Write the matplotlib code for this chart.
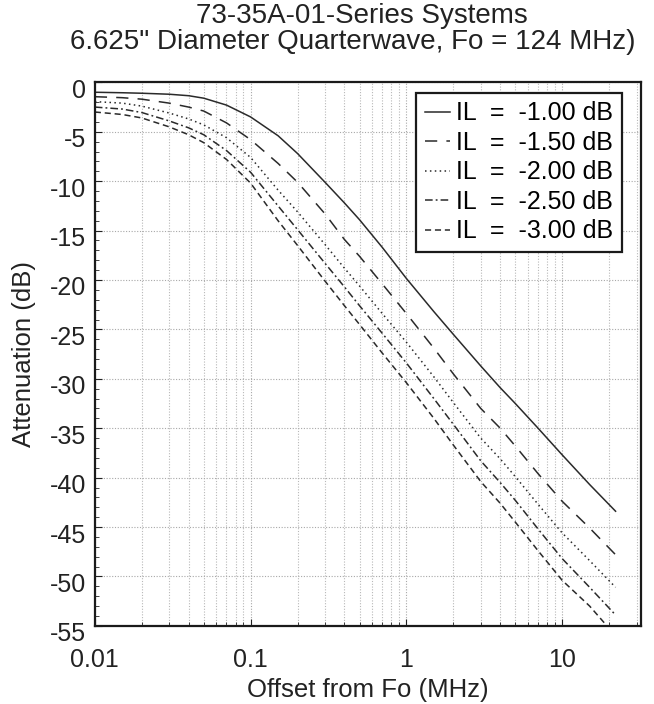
import matplotlib
matplotlib.use("Agg")
import matplotlib.pyplot as plt
import matplotlib.transforms as mtransforms
from matplotlib.ticker import FixedLocator, FixedFormatter, MultipleLocator, LogLocator, NullFormatter

plt.rcParams['font.family'] = ['Liberation Sans', 'DejaVu Sans']
plt.rcParams['axes.unicode_minus'] = False

title_line1 = "73-35A-01-Series Systems"
title_line2 = "6.625\" Diameter Quarterwave, Fo = 124 MHz)"
x_label = "Offset from Fo (MHz)"
y_label = "Attenuation (dB)"

offset_mhz = [0.01, 0.015, 0.02, 0.03, 0.04, 0.05, 0.07, 0.1, 0.15, 0.2, 0.3, 0.4,
              0.5, 0.7, 1, 1.5, 2, 3, 4, 5, 7, 10, 15, 22]

il_100 = [-1.0, -1.05, -1.1, -1.2, -1.35, -1.6, -2.3, -3.5, -5.4, -7.2, -10.1, -12.2,
          -13.9, -16.7, -19.85, -23.2, -25.5, -28.7, -30.9, -32.5, -35.0, -37.7, -40.7, -43.4]
il_150 = [-1.45, -1.55, -1.7, -2.1, -2.5, -2.9, -4.1, -5.8, -8.2, -10.1, -13.3, -15.9,
          -17.6, -20.4, -23.4, -26.9, -29.5, -33.0, -35.0, -36.8, -39.6, -42.4, -45.1, -47.8]
il_200 = [-1.95, -2.1, -2.4, -3.1, -3.7, -4.3, -5.6, -7.6, -10.9, -13.1, -16.4, -18.8,
          -20.6, -23.4, -26.3, -29.8, -32.4, -36.0, -38.1, -39.9, -42.7, -45.6, -48.4, -51.1]
il_250 = [-2.5, -2.7, -3.05, -3.9, -4.6, -5.3, -6.9, -9.1, -12.5, -14.9, -18.3, -20.7,
          -22.6, -25.4, -28.4, -32.0, -34.6, -38.3, -40.5, -42.3, -45.2, -48.2, -51.1, -53.9]
il_300 = [-3.0, -3.25, -3.6, -4.5, -5.3, -6.1, -7.8, -10.2, -14.0, -16.5, -20.1, -22.6,
          -24.5, -27.4, -30.4, -34.0, -36.7, -40.4, -42.6, -44.5, -47.4, -50.4, -53.0, -56.0]

series_labels = ["IL  =  -1.00 dB", "IL  =  -1.50 dB", "IL  =  -2.00 dB",
                 "IL  =  -2.50 dB", "IL  =  -3.00 dB"]
series_values = [il_100, il_150, il_200, il_250, il_300]
series_styles = ['-', (0, (8, 6)), (0, (1, 2.2)), (0, (5, 2, 1.2, 2)), (0, (4, 2.5))]

x_ticks = [0.01, 0.1, 1, 10]
x_tick_labels = ["0.01", "0.1", "1", "10"]
y_ticks = list(range(-55, 1, 5))
y_tick_labels = [str(v) for v in y_ticks]

fig = plt.figure(figsize=(6.54, 7.04), dpi=100)
ax = fig.add_axes([0.145, 0.111, 0.835, 0.772])

line_color = '#2a2a2a'
for vals, lab, ls in zip(series_values, series_labels, series_styles):
    ax.plot(offset_mhz, vals, color=line_color, lw=1.1, linestyle=ls, label=lab)

ax.set_xscale('log')
ax.set_xlim(0.01, 32)
ax.set_ylim(-55, 0)

ax.xaxis.set_major_locator(FixedLocator(x_ticks))
ax.xaxis.set_major_formatter(FixedFormatter(x_tick_labels))
ax.xaxis.set_minor_locator(LogLocator(base=10, subs=range(2, 10)))
ax.xaxis.set_minor_formatter(NullFormatter())
ax.yaxis.set_major_locator(FixedLocator(y_ticks))
ax.yaxis.set_major_formatter(FixedFormatter(y_tick_labels))
ax.yaxis.set_minor_locator(MultipleLocator(1))

ax.grid(True, which='major', axis='both', color='#a8a8a8', linestyle=(0, (1, 1.5)), lw=0.8)
ax.grid(True, which='minor', axis='x', color='#b8b8b8', linestyle=(0, (1, 1.5)), lw=0.8)

ax.tick_params(axis='both', which='both', direction='in', labelsize=18, colors='#222222')
ax.tick_params(axis='y', which='major', length=5, width=0.8, pad=6)
ax.tick_params(axis='y', which='minor', length=3, width=0.6)
ax.tick_params(axis='x', which='major', length=5, width=0.8, pad=16)
ax.tick_params(axis='x', which='minor', length=3, width=0.6)
for sp in ax.spines.values():
    sp.set_linewidth(1.6)
    sp.set_color('#1a1a1a')

# reference draws the y tick labels slightly below their tick positions
shift = mtransforms.ScaledTranslation(0, -6 / 100, fig.dpi_scale_trans)
for lbl in ax.get_yticklabels():
    lbl.set_transform(lbl.get_transform() + shift)

ax.set_xlabel(x_label, fontsize=18.5, color='#222222', labelpad=4)
ax.set_ylabel(y_label, fontsize=18.5, color='#222222', labelpad=10)

leg = ax.legend(loc='upper right', bbox_to_anchor=(0.965, 0.981), borderaxespad=0,
                fontsize=18, handlelength=1.0, handletextpad=0.25, labelspacing=0.22,
                borderpad=0.35, fancybox=False, framealpha=1, edgecolor='#1a1a1a')
leg.get_frame().set_linewidth(1.6)

fig.text(0.553, 0.977, title_line1, ha='center', va='center', fontsize=20, color='#222222')
fig.text(0.54, 0.940, title_line2, ha='center', va='center', fontsize=20, color='#222222')

fig.savefig("out.png", dpi=100, facecolor='white')
